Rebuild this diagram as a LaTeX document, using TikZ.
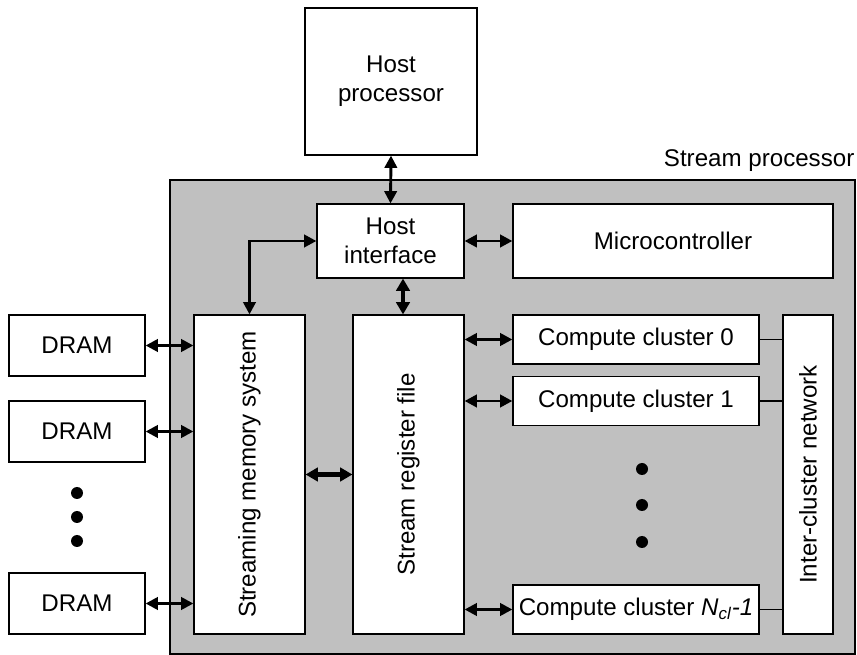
\documentclass[tikz,border=0pt]{standalone}
\usepackage{fontspec}
\setmainfont{Liberation Sans}
\usetikzlibrary{arrows.meta}
\definecolor{spgray}{RGB}{192,192,192}

\begin{document}
\begin{tikzpicture}[x=0.03cm, y=-0.03cm,
    box/.style={draw, fill=white, line width=1pt, align=center, inner sep=0pt},
    lbl/.style={font=\fontsize{20.6}{25}\selectfont, align=center, inner sep=0pt},
    arr/.style={{Triangle[length=10.5pt,width=10.5pt]}-{Triangle[length=10.5pt,width=10.5pt]}, line width=2.5pt},
    fatarr/.style={{Triangle[length=10.5pt,width=11.5pt]}-{Triangle[length=10.5pt,width=11.5pt]}, line width=4.2pt},
    blob/.style={circle, fill, inner sep=0pt, minimum size=0.36cm}]
  \useasboundingbox (0,0) rectangle (857,655);

  % stream processor area
  \node[draw, fill=spgray, line width=1pt, inner sep=0pt, minimum width=20.55cm, minimum height=14.22cm] (sp) at (512.5,417) {};
  \node[lbl, anchor=south east] (splbl) at ([xshift=-0.03cm, yshift=0.24cm]sp.north east) {Stream processor};

  % host side
  \node[box, lbl, draw, fill=white, minimum width=5.16cm, minimum height=4.41cm] (host) at (391,81.5) {Host\\processor};
  \node[box, lbl, draw, fill=white, minimum width=4.41cm, minimum height=2.22cm] (hostif) at (390.5,241) {Host\\interface};
  \node[box, lbl, draw, fill=white, minimum width=9.6cm, minimum height=2.22cm] (ucode) at (673,241) {Microcontroller};

  % memory system and SRF
  \node[box, minimum width=3.33cm, minimum height=9.57cm] (sms) at (249.5,474.5) {};
  \node[lbl, rotate=90] (smslbl) at (sms) {Streaming memory system};
  \node[box, minimum width=3.33cm, minimum height=9.57cm] (srf) at (408.5,474.5) {};
  \node[lbl, rotate=90] (srflbl) at (srf) {Stream register file};

  % DRAMs
  \node[box, lbl, draw, fill=white, minimum width=4.08cm, minimum height=1.83cm] (dram0) at (77,345.5) {DRAM};
  \node[box, lbl, draw, fill=white, minimum width=4.08cm, minimum height=1.83cm] (dram1) at (77,431.5) {DRAM};
  \node[box, lbl, draw, fill=white, minimum width=4.08cm, minimum height=1.83cm] (dramn) at (77,603.5) {DRAM};
  \foreach \y/\n in {493/a,517/b,541/c}
    \node[blob] (ldot\n) at (77,\y) {};

  % clusters
  \node[box, lbl, draw, fill=white, minimum width=7.38cm, minimum height=1.47cm] (cc0) at (636,339.5) {Compute cluster 0};
  \node[box, lbl, draw, fill=white, minimum width=7.38cm, minimum height=1.47cm] (cc1) at (636,401) {Compute cluster 1};
  \node[box, lbl, draw, fill=white, minimum width=7.38cm, minimum height=1.47cm] (ccn) at (636,609.5) {Compute cluster \textit{N}\textsubscript{\textit{cl}}\textit{-1}};
  \foreach \y/\n in {469/a,505/b,542/c}
    \node[blob] (rdot\n) at (642,\y) {};
  \node[box, minimum width=1.5cm, minimum height=9.57cm] (icn) at (808,474.5) {};
  \node[lbl, rotate=90] (icnlbl) at (icn) {Inter-cluster network};

  % connections
  \draw[arr] (host.south) -- (hostif.north);
  \draw[arr] (hostif.west) -| (sms.north);
  \draw[arr] (hostif.east) -- (ucode.west);
  \draw[fatarr] (hostif.south -| 403,0) -- (srf.north -| 403,0);
  \draw[fatarr] (sms.east) -- (srf.west);
  \foreach \d in {dram0,dram1,dramn}
    \draw[arr] (\d.east) -- (\d.east -| sms.west);
  \foreach \c in {cc0,cc1,ccn} {
    \draw[arr] (\c.west -| srf.east) -- (\c.west);
    \draw[line width=1pt] (\c.east) -- (\c.east -| icn.west);
  }
\end{tikzpicture}
\end{document}
